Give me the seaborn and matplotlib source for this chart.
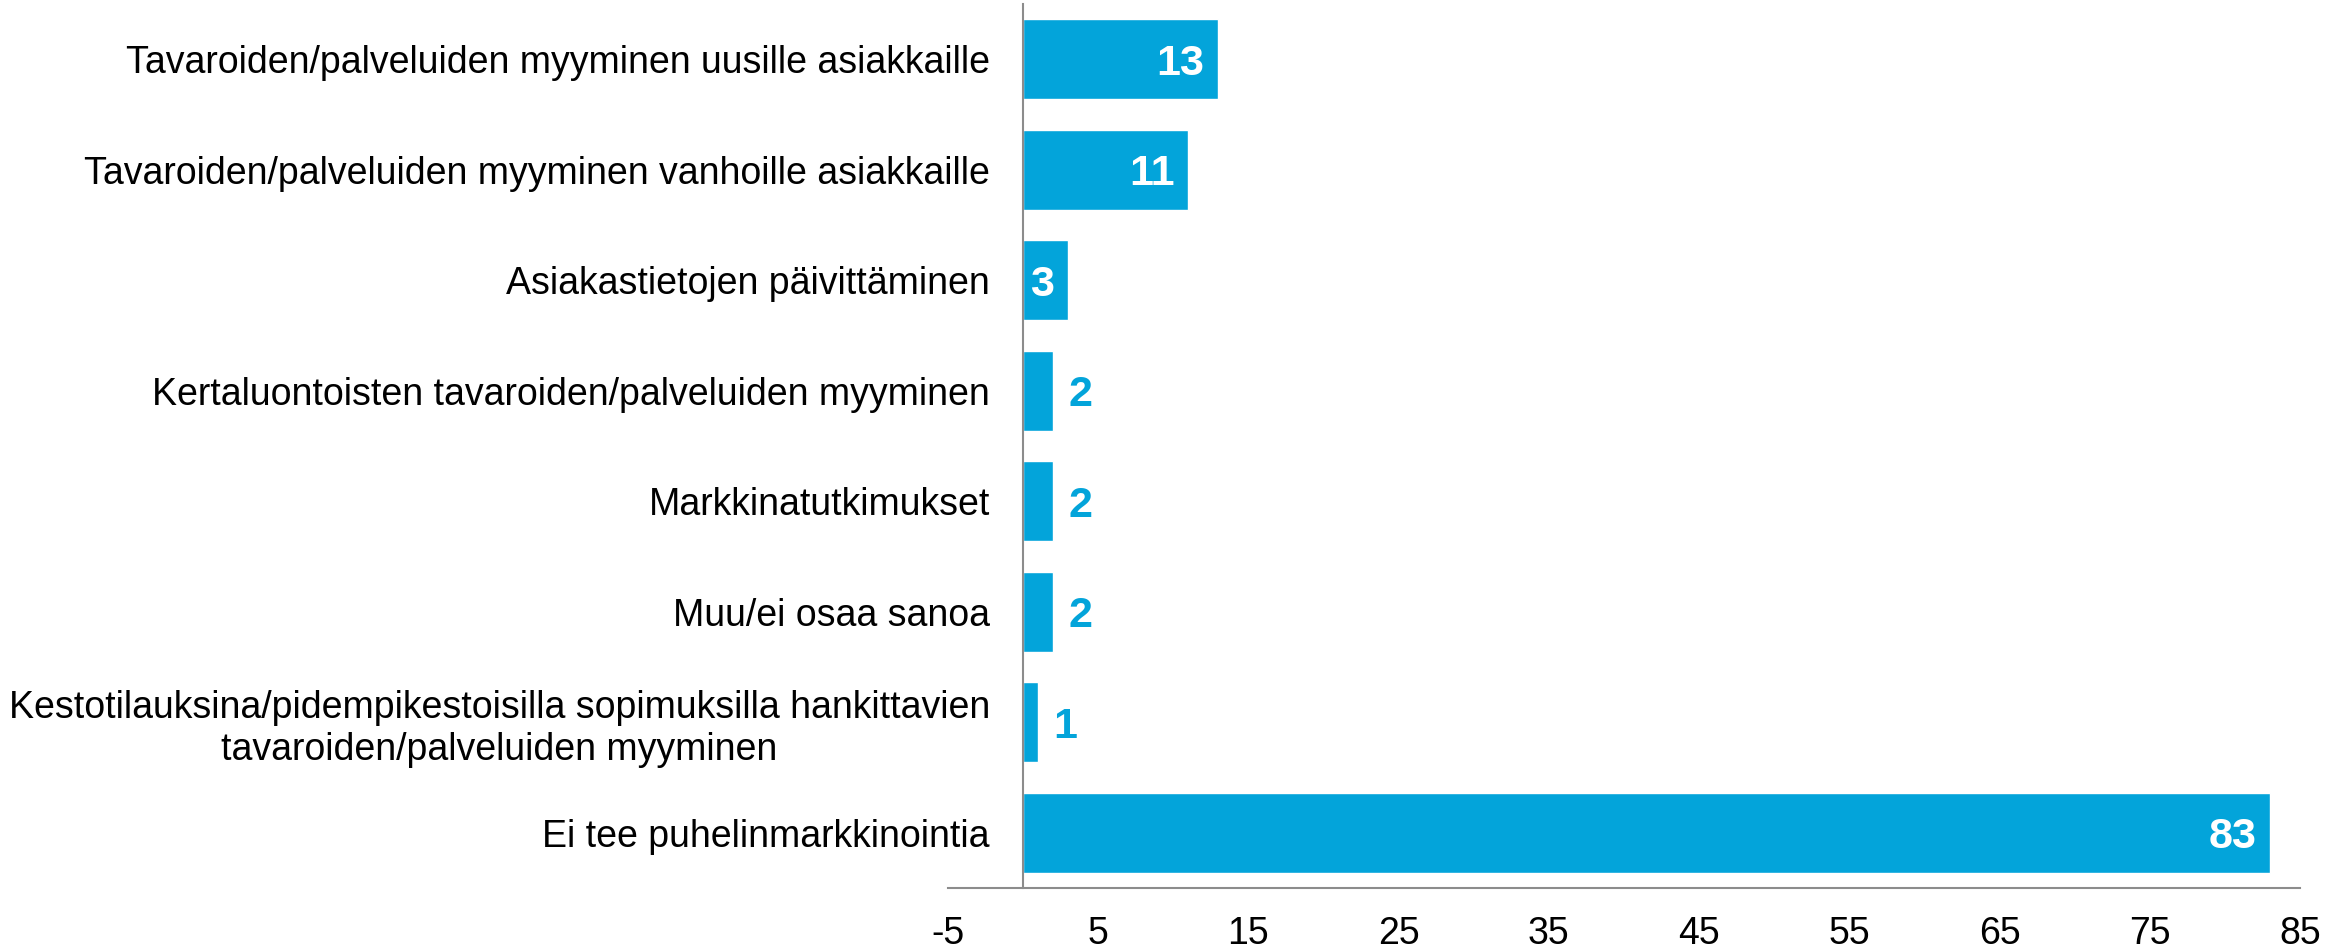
import matplotlib
matplotlib.use("Agg")
import matplotlib.pyplot as plt
import seaborn as sns
import pandas as pd

categories = [
    "Tavaroiden/palveluiden myyminen uusille asiakkaille",
    "Tavaroiden/palveluiden myyminen vanhoille asiakkaille",
    "Asiakastietojen päivittäminen",
    "Kertaluontoisten tavaroiden/palveluiden myyminen",
    "Markkinatutkimukset",
    "Muu/ei osaa sanoa",
    "Kestotilauksina/pidempikestoisilla sopimuksilla hankittavien\ntavaroiden/palveluiden myyminen",
    "Ei tee puhelinmarkkinointia",
]
values = [13, 11, 3, 2, 2, 2, 1, 83]
xticks = [-5, 5, 15, 25, 35, 45, 55, 65, 75, 85]

BLUE = "#03A4DA"
GRAY = "#8C8C8C"

sns.set_theme(style="white")
plt.rcParams["font.family"] = ["Liberation Sans", "DejaVu Sans"]

df = pd.DataFrame({"cat": categories, "val": values})

fig = plt.figure(figsize=(23.51, 9.5), dpi=100)
ax = fig.add_axes([948 / 2351, 1 - 888 / 950, (2300 - 948) / 2351, 884 / 950])

sns.barplot(data=df, y="cat", x="val", orient="h", color=BLUE, width=0.72,
            saturation=1, ax=ax, order=categories)

ax.set_xlim(-5, 85)
ax.set_ylim(7.5, -0.5)
ax.set_xticks(xticks)
ax.set_xticklabels([str(t) for t in xticks], fontsize=27, color="black")
ax.set_xlabel("")
ax.set_ylabel("")

for s in ["top", "right"]:
    ax.spines[s].set_visible(False)
ax.spines["left"].set_position(("data", 0))
ax.spines["left"].set_color(GRAY)
ax.spines["left"].set_linewidth(1.5)
ax.spines["bottom"].set_color(GRAY)
ax.spines["bottom"].set_linewidth(1.5)
ax.tick_params(axis="both", length=0)
ax.tick_params(axis="y", pad=24, labelsize=27)
ax.tick_params(axis="x", pad=20)
for lbl in ax.get_yticklabels():
    lbl.set_multialignment("center")
    lbl.set_color("black")

for i, v in enumerate(values):
    if v >= 3:
        ax.annotate(str(v), xy=(v, i), xytext=(-10, 0), textcoords="offset points",
                    ha="right", va="center_baseline", color="white", fontsize=31, fontweight="bold")
    else:
        ax.annotate(str(v), xy=(v, i), xytext=(11, 0), textcoords="offset points",
                    ha="left", va="center_baseline", color=BLUE, fontsize=31, fontweight="bold")

fig.savefig("out.png", dpi=100)
